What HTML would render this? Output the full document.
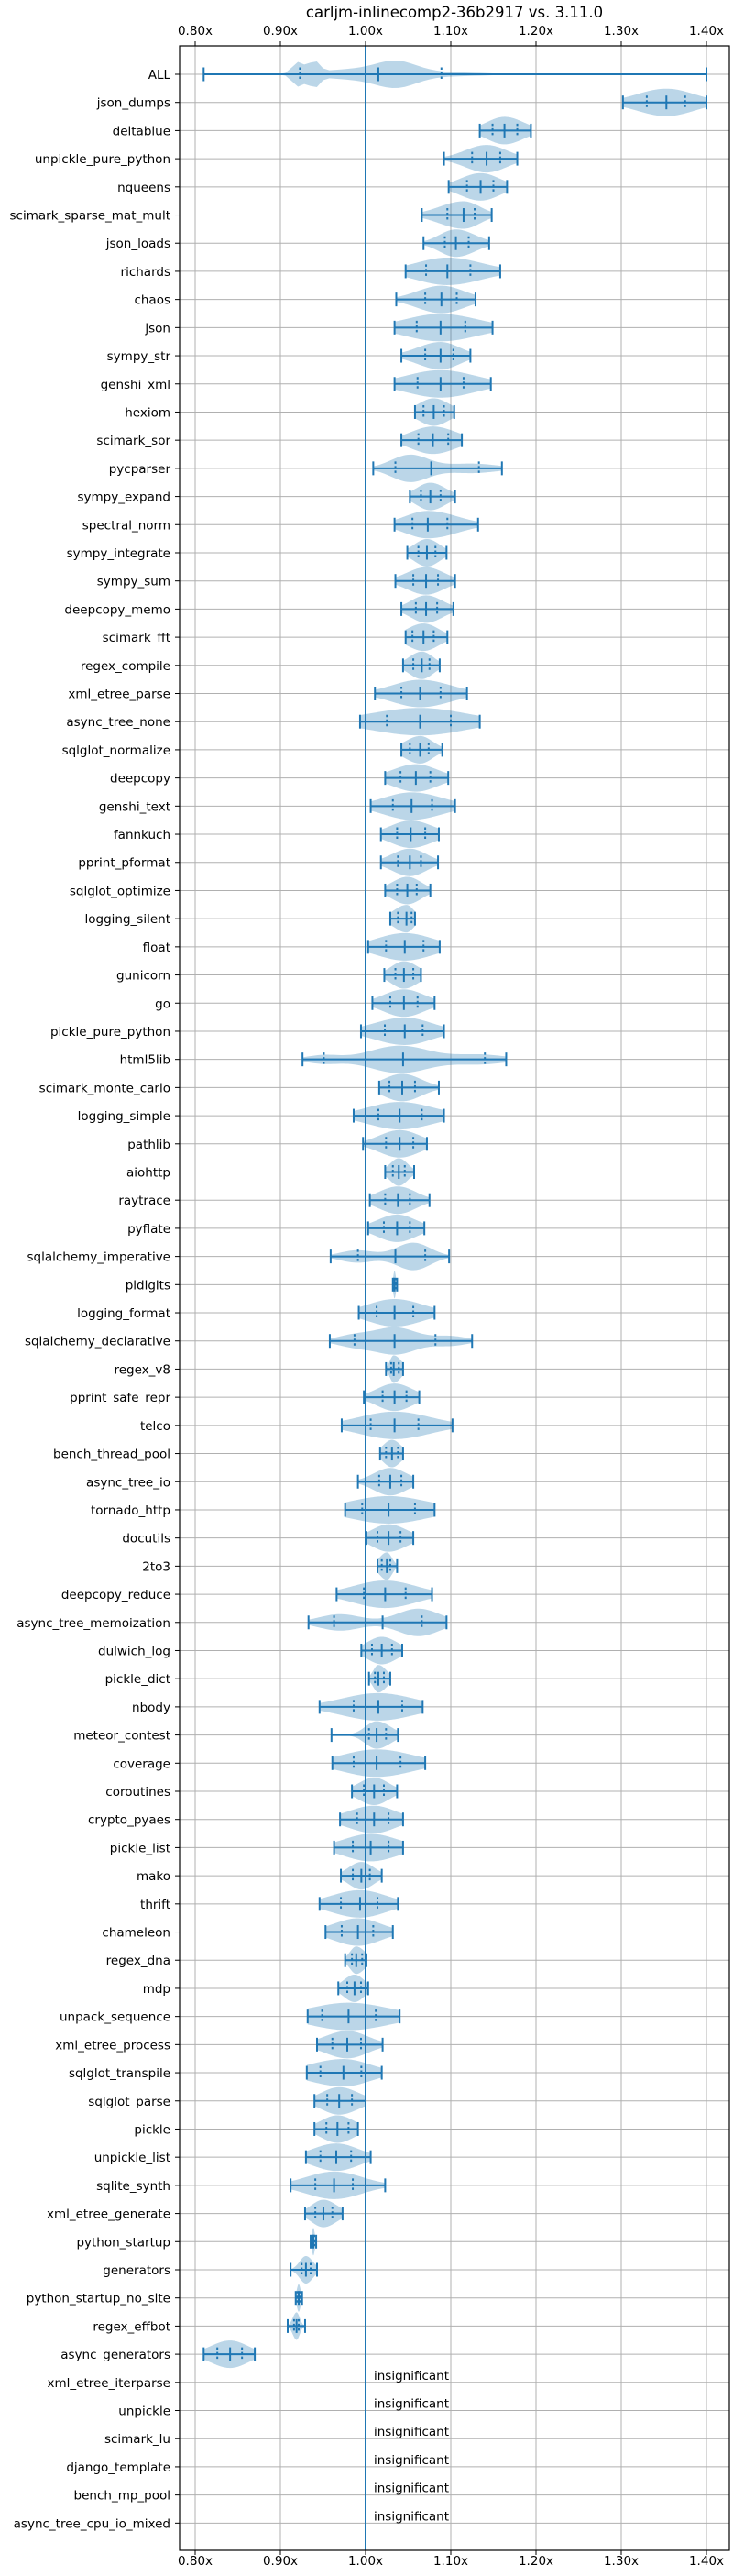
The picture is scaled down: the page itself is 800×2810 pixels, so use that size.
<!DOCTYPE html>
<html><head><meta charset="utf-8"><style>
html,body{margin:0;padding:0;background:#fff;}
svg{display:block;font-family:"DejaVu Sans","Liberation Sans",sans-serif;}
</style></head><body>
<svg id="chart" width="800" height="2810" viewBox="0 0 800 2810" xmlns="http://www.w3.org/2000/svg">
<rect x="0" y="0" width="800" height="2810" fill="#fff"/>
<text x="496" y="19" text-anchor="middle" font-size="16.5" fill="#000">carljm-inlinecomp2-36b2917 vs. 3.11.0</text>
<g id="grid"></g>
<g id="violins"></g>
<g id="axes"></g>
</svg>
<script>
const categories=["ALL","json_dumps","deltablue","unpickle_pure_python","nqueens","scimark_sparse_mat_mult","json_loads","richards","chaos","json","sympy_str","genshi_xml","hexiom","scimark_sor","pycparser","sympy_expand","spectral_norm","sympy_integrate","sympy_sum","deepcopy_memo","scimark_fft","regex_compile","xml_etree_parse","async_tree_none","sqlglot_normalize","deepcopy","genshi_text","fannkuch","pprint_pformat","sqlglot_optimize","logging_silent","float","gunicorn","go","pickle_pure_python","html5lib","scimark_monte_carlo","logging_simple","pathlib","aiohttp","raytrace","pyflate","sqlalchemy_imperative","pidigits","logging_format","sqlalchemy_declarative","regex_v8","pprint_safe_repr","telco","bench_thread_pool","async_tree_io","tornado_http","docutils","2to3","deepcopy_reduce","async_tree_memoization","dulwich_log","pickle_dict","nbody","meteor_contest","coverage","coroutines","crypto_pyaes","pickle_list","mako","thrift","chameleon","regex_dna","mdp","unpack_sequence","xml_etree_process","sqlglot_transpile","sqlglot_parse","pickle","unpickle_list","sqlite_synth","xml_etree_generate","python_startup","generators","python_startup_no_site","regex_effbot","async_generators","xml_etree_iterparse","unpickle","scimark_lu","django_template","bench_mp_pool","async_tree_cpu_io_mixed"];
const mins=[0.810,1.302,1.134,1.092,1.0975,1.066,1.068,1.047,1.036,1.034,1.042,1.034,1.058,1.042,1.009,1.052,1.034,1.049,1.035,1.042,1.047,1.044,1.011,0.9935,1.042,1.023,1.006,1.018,1.018,1.023,1.029,1.003,1.022,1.008,0.9946,0.926,1.016,0.986,0.997,1.023,1.005,1.003,0.959,1.032,0.992,0.958,1.024,0.998,0.972,1.017,0.991,0.976,1.001,1.014,0.966,0.933,0.995,1.004,0.946,0.960,0.961,0.984,0.970,0.963,0.971,0.946,0.953,0.976,0.968,0.932,0.943,0.931,0.940,0.940,0.930,0.912,0.929,0.9355,0.912,0.918,0.9086,0.810];
const q1s=[0.923,1.330,1.149,1.125,1.119,1.096,1.093,1.071,1.070,1.060,1.070,1.061,1.068,1.062,1.035,1.065,1.055,1.062,1.056,1.059,1.055,1.056,1.042,1.025,1.052,1.041,1.032,1.037,1.038,1.037,1.038,1.024,1.035,1.029,1.0226,0.951,1.028,1.015,1.024,1.032,1.023,1.0215,0.991,1.033,1.013,0.987,1.030,1.020,1.006,1.024,1.016,0.996,1.014,1.019,0.998,0.963,1.0075,1.011,0.986,1.004,0.986,0.998,0.990,0.985,0.985,0.971,0.972,0.984,0.9785,0.949,0.961,0.947,0.955,0.954,0.947,0.941,0.941,0.9376,0.925,0.920,0.916,0.826];
const meds=[1.015,1.353,1.163,1.142,1.135,1.115,1.106,1.096,1.089,1.088,1.088,1.088,1.080,1.079,1.077,1.076,1.073,1.072,1.071,1.071,1.068,1.066,1.064,1.064,1.064,1.059,1.054,1.053,1.052,1.049,1.048,1.046,1.045,1.045,1.046,1.044,1.043,1.040,1.040,1.039,1.038,1.037,1.035,1.034,1.034,1.034,1.033,1.034,1.034,1.031,1.029,1.027,1.027,1.025,1.023,1.020,1.019,1.015,1.015,1.013,1.013,1.010,1.010,1.006,0.995,0.9935,0.991,0.989,0.987,0.980,0.9785,0.974,0.969,0.967,0.9656,0.963,0.9505,0.9387,0.930,0.9215,0.919,0.841];
const q3s=[1.089,1.375,1.178,1.158,1.150,1.128,1.121,1.123,1.107,1.117,1.103,1.115,1.092,1.097,1.133,1.088,1.096,1.082,1.085,1.084,1.080,1.075,1.088,1.100,1.074,1.076,1.078,1.070,1.065,1.060,1.054,1.068,1.056,1.061,1.067,1.140,1.058,1.066,1.056,1.046,1.052,1.052,1.070,1.035,1.056,1.082,1.039,1.048,1.062,1.038,1.042,1.058,1.041,1.029,1.047,1.066,1.031,1.0215,1.043,1.024,1.041,1.0215,1.027,1.027,1.005,1.014,1.009,0.996,0.9946,1.012,0.9946,0.995,0.984,0.980,0.983,0.985,0.961,0.9398,0.9355,0.923,0.9215,0.855];
const maxs=[1.400,1.400,1.194,1.178,1.166,1.148,1.145,1.158,1.129,1.149,1.123,1.147,1.104,1.113,1.160,1.105,1.132,1.095,1.105,1.103,1.096,1.087,1.119,1.134,1.090,1.097,1.105,1.086,1.085,1.076,1.058,1.087,1.065,1.081,1.092,1.165,1.086,1.092,1.072,1.057,1.075,1.069,1.098,1.037,1.081,1.125,1.044,1.063,1.102,1.044,1.056,1.081,1.056,1.037,1.078,1.095,1.043,1.029,1.067,1.038,1.070,1.037,1.044,1.044,1.019,1.038,1.032,1.001,1.003,1.040,1.020,1.019,1.000,0.991,1.006,1.023,0.973,0.942,0.943,0.9255,0.929,0.870];
// multimodal density components [center, sigma, weight] for irregular violins
const modes={0:[[0.921,0.007,0.9],[0.940,0.006,0.9],[0.975,0.03,0.35],[1.035,0.025,1.0],[1.10,0.04,0.15]],
14:[[1.052,0.022,1],[1.125,0.03,0.35]],
35:[[0.95,0.02,0.3],[1.04,0.035,1],[1.135,0.03,0.35]],
42:[[0.99,0.02,0.45],[1.056,0.02,1]],
45:[[0.985,0.02,0.4],[1.035,0.025,1],[1.10,0.02,0.35]],
55:[[0.97,0.025,0.6],[1.062,0.025,1]]};
const xTicks=[0.8,0.9,1.0,1.1,1.2,1.3,1.4];
const xTickLabels=["0.80x","0.90x","1.00x","1.10x","1.20x","1.30x","1.40x"];

const NS="http://www.w3.org/2000/svg";
const L=196,R=796,T=50,B=2782;
function X(v){return 399+(v-1)*930;}
function Y(i){return 81+i*30.705;}
const C="#1f77b4";
function mk(tag,attrs,parent){const e=document.createElementNS(NS,tag);for(const k in attrs)e.setAttribute(k,attrs[k]);parent.appendChild(e);return e;}
const grid=document.getElementById('grid'),vg=document.getElementById('violins'),ax=document.getElementById('axes');

xTicks.forEach((t,i)=>{
  const g=mk('line',{x1:X(t),x2:X(t),y1:T,y2:B,stroke:"#b0b0b0","stroke-width":1},grid);
  
  
  const a=mk('line',{x1:X(t),x2:X(t),y1:T-5,y2:T,stroke:"#000","stroke-width":1},ax);
  
  
  const b=mk('line',{x1:X(t),x2:X(t),y1:B,y2:B+5,stroke:"#000","stroke-width":1},ax);
  
  
  const tt=mk('text',{x:X(t),y:38,"text-anchor":"middle","font-size":13.5,fill:"#000"},ax);
  tt.textContent=xTickLabels[i];
  
  
  const tb=mk('text',{x:X(t),y:2798,"text-anchor":"middle","font-size":13.5,fill:"#000"},ax);
  tb.textContent=xTickLabels[i];
  
  
});
categories.forEach((c,i)=>{
  const y=Y(i);
  const g=mk('line',{x1:L,x2:R,y1:y,y2:y,stroke:"#b0b0b0","stroke-width":1},grid);
  
  
  const tk=mk('line',{x1:L-5,x2:L,y1:y,y2:y,stroke:"#000","stroke-width":1},ax);
  
  
  const t=mk('text',{x:186,y:y+5,"text-anchor":"end","font-size":13.5,fill:"#000"},ax);
  t.textContent=c;
  
  
});
function dens(i,v){
  if(modes[i]){let s=0;modes[i].forEach(m=>{s+=m[2]*Math.exp(-0.5*Math.pow((v-m[0])/m[1],2));});return s;}
  const sl=Math.max((meds[i]-q1s[i])/0.674,1e-4),sr=Math.max((q3s[i]-meds[i])/0.674,1e-4);
  const s=v<meds[i]?sl:sr;return Math.exp(-0.5*Math.pow((v-meds[i])/s,2));
}
for(let i=0;i<mins.length;i++){
  const y=Y(i),n=80,pts=[];let mx=0;const ds=[];
  for(let k=0;k<=n;k++){const v=mins[i]+(maxs[i]-mins[i])*k/n;const d=dens(i,v);ds.push([v,d]);if(d>mx)mx=d;}
  let top="",bot="";
  ds.forEach(([v,d],k)=>{const h=15*d/mx;top+=(k?"L":"M")+X(v).toFixed(2)+","+(y-h).toFixed(2);});
  for(let k=ds.length-1;k>=0;k--){const h=15*ds[k][1]/mx;bot+="L"+X(ds[k][0]).toFixed(2)+","+(y+h).toFixed(2);}
  const body=mk('path',{d:top+bot+"Z",fill:C,"fill-opacity":0.3,stroke:"none"},vg);
  
  
  const bar=mk('line',{x1:X(mins[i]),x2:X(maxs[i]),y1:y,y2:y,stroke:C,"stroke-width":2},vg);
  
  
  [mins[i],maxs[i],meds[i]].forEach(v=>{
    const l=mk('line',{x1:X(v),x2:X(v),y1:y-7.5,y2:y+7.5,stroke:C,"stroke-width":2},vg);
    
    
  });
  [q1s[i],q3s[i]].forEach(v=>{
    const l=mk('line',{x1:X(v),x2:X(v),y1:y-7.5,y2:y+7.5,stroke:C,"stroke-width":2,"stroke-dasharray":"2.5,2.5"},vg);
    
    
  });
}
for(let i=mins.length;i<categories.length;i++){
  const t=mk('text',{x:408,y:Y(i)-3,"font-size":13.5,fill:"#000"},vg);
  t.textContent="insignificant";
  
  
}
const ref=mk('line',{x1:X(1),x2:X(1),y1:T,y2:B,stroke:C,"stroke-width":2},vg);


const fr=mk('rect',{x:L,y:T,width:R-L,height:B-T,fill:"none",stroke:"#000","stroke-width":1.2},ax);


</script>
</body></html>
